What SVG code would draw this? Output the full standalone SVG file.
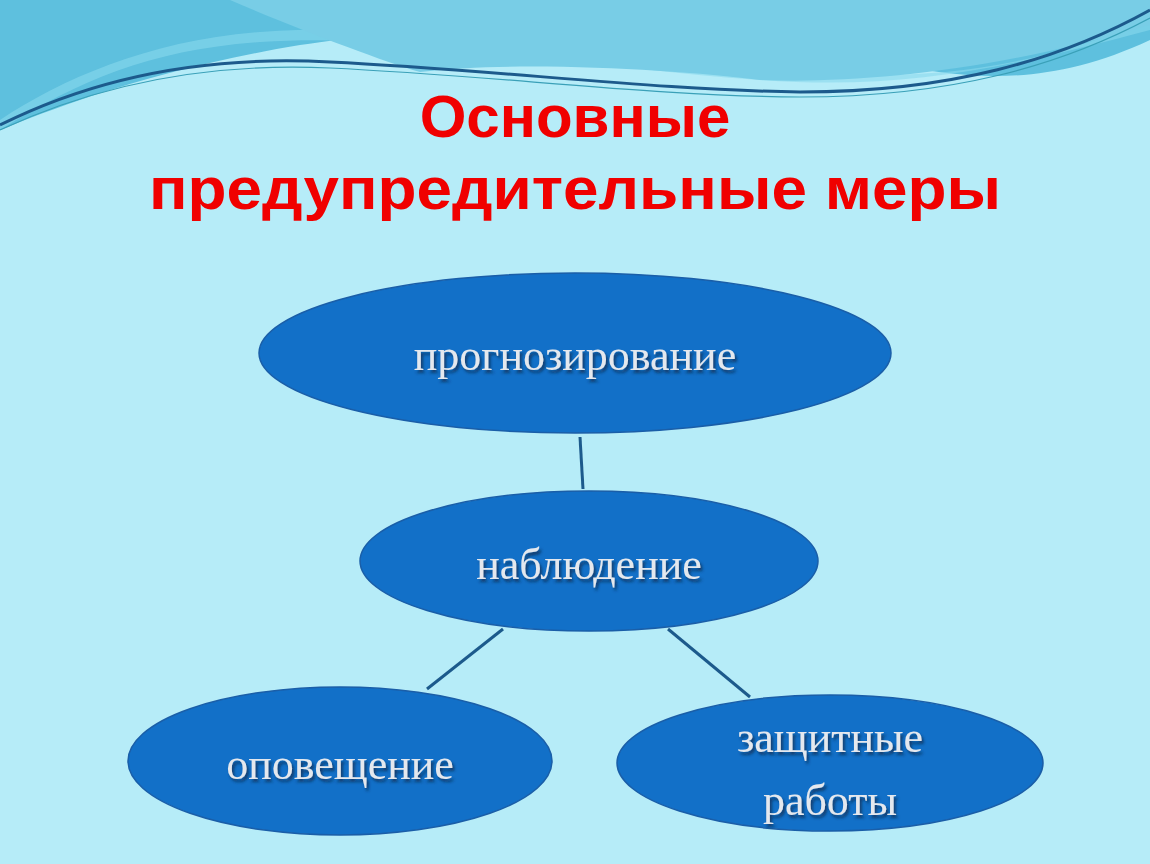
<svg xmlns="http://www.w3.org/2000/svg" width="1150" height="864" viewBox="0 0 1150 864">
<defs>
<filter id="sh" x="-10%" y="-10%" width="120%" height="130%"><feDropShadow dx="2" dy="3" stdDeviation="1.5" flood-color="#0a2a50" flood-opacity="0.8"/></filter>
<style>
.node{fill:#1270c8;stroke:#1a5ea8;stroke-width:1.5}
.lbl{font-family:"Liberation Serif","DejaVu Serif",serif;font-size:44px;fill:#e4e8ee;text-anchor:middle;filter:url(#sh)}
.title{font-family:"Liberation Sans",Arial,sans-serif;font-weight:bold;font-size:60px;fill:#f00000;text-anchor:middle}
.conn{stroke:#1c5a8c;stroke-width:3;fill:none}
</style>
</defs>
<rect width="1150" height="864" fill="#b6ecf8"/>
<g id="waves">
<path d="M0 0 H1150 V40 C1000 110 900 60 780 40 C600 10 400 30 300 45 C150 70 50 110 0 130 Z" fill="#5ec0de"/>
<path d="M0 130 C80 80 150 50 260 42 C420 32 600 70 760 80 C900 90 1000 70 1150 30 V0 H1150 V20 C1000 80 900 80 760 70 C600 50 420 20 260 32 C150 40 60 80 0 120 Z" fill="#88d8ec" opacity="0.6"/>
<path d="M230 0 C300 30 380 60 420 72 C520 60 680 70 760 80 C860 84 1000 70 1150 25 V0 Z" fill="#78cde6"/>
<path d="M0 125 C90 80 200 55 330 62 C500 70 650 90 800 92 C950 92 1060 60 1150 10" class="conn" stroke="#2a8aa8" stroke-width="1.5"/>
<path d="M0 130 C90 88 200 62 330 68 C500 76 650 96 800 97 C950 97 1060 66 1150 18" fill="none" stroke="#3aa0b8" stroke-width="1.2"/>
</g>
<text class="title" x="575" y="137">Основные</text>
<text class="title" x="575" y="209" textLength="852" lengthAdjust="spacingAndGlyphs">предупредительные меры</text>
<g id="connectors">
<line class="conn" x1="580" y1="437" x2="583" y2="489"/>
<line class="conn" x1="503" y1="629" x2="427" y2="689"/>
<line class="conn" x1="668" y1="629" x2="750" y2="697"/>
</g>
<g id="n1"><ellipse class="node" cx="575" cy="353" rx="316" ry="80"/><text class="lbl" x="575" y="370">прогнозирование</text></g>
<g id="n2"><ellipse class="node" cx="589" cy="561" rx="229" ry="70"/><text class="lbl" x="589" y="579">наблюдение</text></g>
<g id="n3"><ellipse class="node" cx="340" cy="761" rx="212" ry="74"/><text class="lbl" x="340" y="779">оповещение</text></g>
<g id="n4"><ellipse class="node" cx="830" cy="763" rx="213" ry="68"/><text class="lbl" x="830" y="752">защитные</text><text class="lbl" x="830" y="815">работы</text></g>
</svg>
